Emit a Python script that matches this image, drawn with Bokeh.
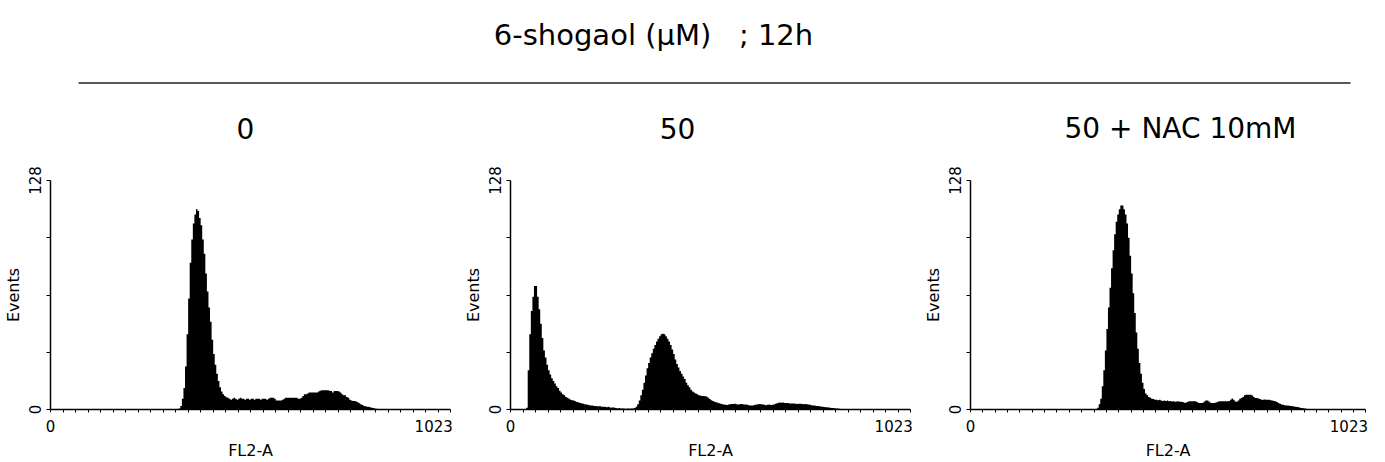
import numpy as np
from bokeh.plotting import figure
from bokeh.layouts import column, row
from bokeh.models import Range1d, FixedTicker, Label
from bokeh.embed import file_html
from bokeh.resources import INLINE

FONT = "DejaVu Sans"

# ---- text -------------------------------------------------------------
suptitle = "6-shogaol (μM)\u00a0\u00a0\u00a0;\u00a012h"
panel_titles = ["0", "50", "50 + NAC 10mM"]
x_label = "FL2-A"
y_label = "Events"

# ---- axes -------------------------------------------------------------
x_max = 1023
y_max = 128
y_ticks = [0, 32, 64, 96, 128]
y_tick_labels = {0: "0", 32: "", 64: "", 96: "", 128: "128"}
x_minor_ticks = list(range(0, 1024, 32)) + [1023]
# the end label "1023" sits flush with the right end of the channel axis
x_label_ticks = [0, 980]
x_label_text = {0: "0", 980: "1023"}

# ---- histograms: events per 4-channel bin, first bin starts at *_start --
BIN = 4

ctrl_start = 328
ctrl_counts = [
    0.5, 2, 6, 12, 24, 42, 62, 82, 95, 104, 109, 112, 111, 107, 103, 95,
    87, 76, 66, 57, 49, 39, 31, 25, 20, 16, 12.5, 10, 8.5, 7.5, 6.8,
    6.5, 6, 5.5, 6, 6.5, 6, 5.5, 6, 6.5, 6, 6, 5.5, 6, 6, 5.5, 6, 6, 5.5,
    6, 6, 6, 5.5, 6, 6, 6, 5.5, 6, 6.5, 6.5, 6.5, 6, 5, 5, 5, 5, 5.5, 6,
    6.5, 6.5, 6.5, 6.5, 6.5, 6.5, 6.5, 6.5, 6, 6, 6.5, 7.5, 8.5, 8.5, 9,
    9.5, 9.5, 9.5, 9.5, 9.5, 9.5, 10, 10.5, 10.7, 10.7, 10.7, 10.7, 10.7,
    10.5, 10.3, 9.5, 10.3, 10.3, 10.3, 10, 9.5, 8.5, 8, 8, 7, 6.5, 5.5, 5,
    4.8, 4.8, 4.5, 4, 3.5, 3, 2.5, 2, 1.8, 1.5, 1.5, 1.2, 1, 0.8, 0.6, 0.4,
    0.2,
]

sh50_start = 40
sh50_counts = [
    1, 22, 42, 55, 63, 69, 69, 63, 56, 48, 40, 33, 29, 25, 22, 19.5, 17.5,
    16, 14.5, 13, 12, 10.5, 9.5, 8.5, 8, 7, 6.5, 6, 5.5, 5.2, 5, 4.6, 4.2,
    4, 3.7, 3.5, 3.2, 3, 2.8, 2.6, 2.4, 2.3, 2.2, 2, 2, 1.8, 1.8, 1.8, 1.6,
    1.5, 1.5, 1.2, 1.5, 1.3, 1, 1.2, 1, 0.8, 0.6, 0.8, 0.6, 0.5, 0.5, 0.4,
    0.4, 0.5, 0.4, 0.5, 0.6,
    0.8, 1.5, 3, 5, 8, 11, 15, 19, 23, 26, 29, 31.5, 34, 36, 38, 39.5, 41,
    42, 42.3, 42, 41, 39.5, 38, 36, 33.5, 31, 28, 25.5, 23.5, 21.5, 20,
    18.5, 17, 15, 13.5, 12.5, 11, 10, 9.5, 9, 8.5, 8, 7.8, 7.6, 7.5, 7.4,
    7.2, 6.5, 5.8, 5.2, 4.8, 4.4, 4, 3.8, 3.5, 3.2, 3, 2.8, 2.6, 2.5, 2.8,
    3, 3.1, 3.1, 3.2, 3, 2.8, 3, 3.1, 3, 2.8, 2.8,
    2.6, 2.4, 2.2, 2.2, 2.4, 2.6, 2.8, 3, 3.1, 3, 2.8, 2.6, 2.4, 2.6, 2.8,
    2.5, 2.6, 2.8, 3.2, 3.5, 3.8, 3.9, 3.8, 3.9, 3.7, 3.6, 3.6, 3.4, 3.3,
    3.4, 3.3, 3.2, 3.1, 3.2, 3.2, 3.1, 3, 3.1, 2.9, 2.8, 2.6, 2.4, 2.3,
    2.2, 2, 1.9, 1.8, 1.7, 1.5, 1.4, 1.3, 1.2, 1.1, 1, 0.9, 0.8, 0.7, 0.6,
    0.5, 0.4, 0.3, 0.2, 0.1,
]

nac_start = 328
nac_counts = [
    1, 3, 6, 13, 22, 33, 45, 57, 68, 79, 89, 98, 105, 109, 112, 114, 114,
    112, 109, 104, 96, 86, 76, 65, 54, 43, 34, 26, 20, 15, 11.5, 9, 8, 7,
    6.5, 6, 5.8, 5.5, 5.5, 5.2, 5.5, 5, 4.8,
    5, 4.8, 5, 4.6, 4.8, 4.5, 4.6, 4.4, 4.5, 4.6, 4.3, 4.4, 4.2, 3.8, 3.8,
    4.2, 4.6, 4.6, 4.6, 4.6, 4.6, 4.4, 3.8, 3.7, 3.7, 3.8, 4.5, 5, 5, 4.5,
    3.8, 3.7, 3.7, 3.8, 4, 4.5, 4.6, 4.6, 4.6, 4.6, 4.6, 4.6, 4.8, 5.5,
    6.1, 5.5, 4.5, 4.3, 5, 6, 6.4, 7, 8, 8.3, 8.3, 8.3, 8.2, 7.8, 7, 6.4,
    6.4, 6.2, 5.8, 5.5, 5.5, 5.6, 5.5, 5.5, 5.4, 5.2, 5, 4.8, 4.6, 4.2,
    3.7, 3.2, 2.8, 2.6, 2.4, 2.3, 2.2, 2.1, 1.9, 1.8, 1.7, 1.6, 1.4, 1.2,
    1, 0.9, 0.7, 0.5, 0.4, 0.3, 0.2,
]

HEADER_H = 160
PANEL_H = 302


def histogram_panel(start, counts, width, border_left, border_right):
    p = figure(width=width, height=PANEL_H,
               x_range=Range1d(0, x_max), y_range=Range1d(0, y_max),
               output_backend="svg", toolbar_location=None,
               min_border_left=border_left, min_border_right=border_right,
               min_border_top=20, min_border_bottom=50)
    p.outline_line_color = None
    p.grid.visible = False
    p.background_fill_color = "white"

    edges = start + BIN * np.arange(len(counts) + 1)
    heights = list(counts) + [0]
    p.varea_step(x=edges, y1=0, y2=heights, step_mode="after",
                 fill_color="black")

    xa = p.xaxis[0]
    xa.ticker = FixedTicker(ticks=x_label_ticks, minor_ticks=x_minor_ticks)
    xa.major_label_overrides = dict(x_label_text)
    xa.major_tick_out = 0
    xa.major_tick_in = 0
    xa.minor_tick_out = 3
    xa.minor_tick_in = 0
    xa.minor_tick_line_color = "black"
    xa.major_label_standoff = 7
    xa.axis_label = x_label
    xa.axis_label_standoff = 6

    ya = p.yaxis[0]
    ya.ticker = FixedTicker(ticks=y_ticks)
    ya.major_label_overrides = dict(y_tick_labels)
    ya.major_label_orientation = "vertical"
    ya.major_tick_out = 4
    ya.major_tick_in = 0
    ya.minor_tick_out = 0
    ya.minor_tick_in = 0
    ya.major_label_standoff = 6
    ya.axis_label = y_label
    ya.axis_label_standoff = 3

    for ax in (xa, ya):
        ax.axis_line_width = 1.5
        ax.axis_line_color = "black"
        ax.major_tick_line_color = "black"
        ax.major_label_text_font = FONT
        ax.major_label_text_font_size = "15px"
        ax.major_label_text_color = "black"
        ax.axis_label_text_font = FONT
        ax.axis_label_text_font_size = "16px"
        ax.axis_label_text_font_style = "normal"
        ax.axis_label_text_color = "black"
    return p


header = figure(width=1385, height=HEADER_H,
                x_range=Range1d(0, 1385), y_range=Range1d(HEADER_H, 0),
                x_axis_location=None, y_axis_location=None,
                output_backend="svg", toolbar_location=None, min_border=0)
header.outline_line_color = None
header.grid.visible = False

header.add_layout(Label(x=653, y=34, text=suptitle, text_align="center",
                        text_baseline="alphabetic", text_font=FONT,
                        text_font_size="29px", text_color="black"))
header.segment(x0=[78], y0=[82.5], x1=[1350], y1=[82.5],
               line_width=1.5, line_color="#222222")
for cx, t in zip([245, 677, 1180], panel_titles):
    header.add_layout(Label(x=cx, y=128, text=t, text_align="center",
                            text_baseline="alphabetic", text_font=FONT,
                            text_font_size="28px", text_color="black"))

p1 = histogram_panel(ctrl_start, ctrl_counts, 460, 48, 10)
p2 = histogram_panel(sh50_start, sh50_counts, 460, 49, 10)
p3 = histogram_panel(nac_start, nac_counts, 465, 43, 20)

layout = column(header, row(p1, p2, p3, spacing=0), spacing=0)

open("out.html", "w").write(file_html(layout, INLINE))
